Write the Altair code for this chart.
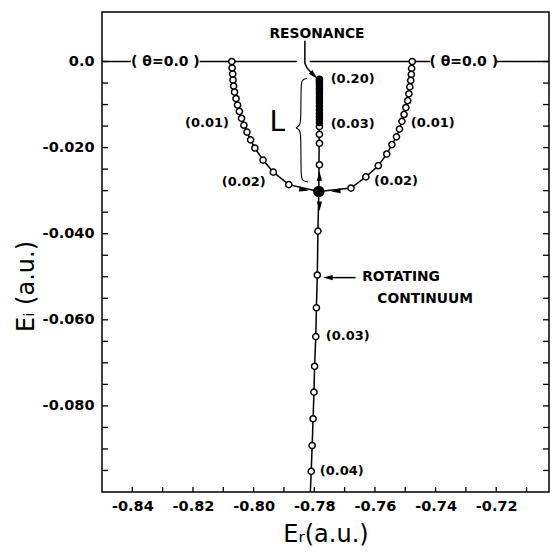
import altair as alt
import pandas as pd

# ---------------- data ----------------
X_DOMAIN = [-0.8500, -0.7026]
Y_DOMAIN = [-0.100, 0.0115]

x_tick_labels = [-0.84, -0.82, -0.80, -0.78, -0.76, -0.74, -0.72]
y_tick_labels = [0.0, -0.02, -0.04, -0.06, -0.08]
x_minor = [-0.84, -0.83, -0.82, -0.81, -0.80, -0.79, -0.78, -0.77, -0.76, -0.75, -0.74, -0.73, -0.72, -0.71]
y_minor = [0.0, -0.005, -0.010, -0.015, -0.020, -0.025, -0.030, -0.035, -0.040, -0.045,
           -0.050, -0.055, -0.060, -0.065, -0.070, -0.075, -0.080, -0.085, -0.090, -0.095]

# left trajectory (theta 0.0 -> 0.02)
left_x = [-0.8072, -0.8071, -0.8069, -0.8068, -0.8066, -0.8063, -0.8058, -0.8053, -0.8047,
          -0.8040, -0.8032, -0.8022, -0.8010, -0.7996, -0.7969, -0.7935, -0.7884]
left_y = [0.0, -0.0015, -0.0029, -0.0043, -0.0057, -0.0071, -0.0086, -0.0101, -0.0116,
          -0.0132, -0.0148, -0.0164, -0.0182, -0.0201, -0.0229, -0.0257, -0.0286]
# right trajectory
right_x = [-0.7477, -0.7479, -0.7480, -0.7482, -0.7485, -0.7488, -0.7492, -0.7498, -0.7504,
           -0.7511, -0.7519, -0.7529, -0.7544, -0.7561, -0.7589, -0.7630, -0.7679]
right_y = [0.0, -0.0016, -0.0030, -0.0044, -0.0059, -0.0075, -0.0091, -0.0107, -0.0123,
           -0.0139, -0.0157, -0.0175, -0.0193, -0.0215, -0.0242, -0.0268, -0.0294]
# bifurcation point
center_x = [-0.7785]
center_y = [-0.0302]
# resonance (theta 0.03 -> 0.20)
res_x = -0.7783
res_open_y = [-0.0151, -0.0169, -0.0190, -0.0240]
res_fill_y = [-0.0041, -0.0044, -0.0048, -0.0052, -0.0057, -0.0062, -0.0068, -0.0074, -0.0081,
              -0.0088, -0.0096, -0.0104, -0.0112, -0.0120, -0.0128, -0.0135, -0.0142]
# rotating continuum
cont_x = [-0.7788, -0.7790, -0.7793, -0.7795, -0.7799, -0.7801, -0.7804, -0.7807, -0.7810]
cont_y = [-0.0394, -0.0496, -0.0572, -0.0639, -0.0708, -0.0768, -0.0830, -0.0892, -0.0952]
cont_end = (-0.7813, -0.100)

# zero line pieces (interrupted by the labels and the arrow)
zero_from = [-0.8500, -0.8178, -0.7815, -0.7198]
zero_to = [-0.8405, -0.7857, -0.7418, -0.7026]

# arrowheads: x, y, direction (deg, clockwise from pointing right)
head_x = [-0.7834, -0.7729, -0.7783, -0.7783, -0.7801, -0.7755]
head_y = [-0.0298, -0.0301, -0.0266, -0.0336, -0.0032, -0.0502]
head_a = [11, 175, 270, 90, 45, 180]

# annotation arrows
res_arrow_x = [-0.7831, -0.7831, -0.7824, -0.7808]
res_arrow_y = [0.0048, -0.0004, -0.0015, -0.0028]
rot_arrow_x = [-0.7664, -0.7748]
rot_arrow_y = [-0.0502, -0.0502]

# brace
brace_x = [-0.7824, -0.7841, -0.7844, -0.7844, -0.7847, -0.7860, -0.7860, -0.7847, -0.7844,
           -0.7844, -0.7841, -0.7821]
brace_y = [-0.0039, -0.0042, -0.0055, -0.0134, -0.0148, -0.0154, -0.0154, -0.0159, -0.0173,
           -0.0264, -0.0277, -0.0280]

# labels
left_lab = ["(0.20)", "(0.03)", "(0.01)", "(0.02)", "(0.03)", "(0.04)"]
left_lab_x = [-0.7746, -0.7746, -0.7482, -0.7603, -0.7762, -0.7782]
left_lab_y = [-0.0041, -0.0146, -0.0143, -0.0277, -0.0638, -0.0952]
word_lab = ["ROTATING", "CONTINUUM"]
word_lab_x = [-0.7642, -0.7592]
word_lab_y = [-0.0501, -0.0551]
right_lab = ["(0.01)", "(0.02)"]
right_lab_x = [-0.8081, -0.7960]
right_lab_y = [-0.0143, -0.0280]
center_lab = ["RESONANCE"]
center_lab_x = [-0.7791]
center_lab_y = [0.0064]
theta_lab = ["( θ=0.0 )", "( θ=0.0 )"]
theta_lab_x = [-0.8291, -0.7307]
theta_lab_y = [0.0, 0.0]
big_lab = ["L"]
big_lab_x = [-0.7922]
big_lab_y = [-0.0143]

# ---------------- chart ----------------
FONT = "DejaVu Sans"
W, H = 447, 480
xs = alt.Scale(domain=X_DOMAIN, nice=False, zero=False)
ys = alt.Scale(domain=Y_DOMAIN, nice=False, zero=False)

x_axis = alt.Axis(
    values=x_tick_labels,
    labelExpr="'-' + format(abs(datum.value), '.2f')",
    ticks=False, domain=False, grid=False, labelPadding=7, labelFlush=False,
    labelOverlap=False, labelFont=FONT, labelFontSize=14.5, labelFontWeight="bold",
    labelColor="black",
    title="Eᵣ(a.u.)", titleFont=FONT, titleFontSize=24, titleFontWeight="normal",
    titleColor="black", titleY=42, titleBaseline="middle",
)
y_axis = alt.Axis(
    values=y_tick_labels,
    labelExpr="datum.value == 0 ? '0.0' : '-' + format(abs(datum.value), '.3f')",
    ticks=False, domain=False, grid=False, labelPadding=8, labelFlush=False,
    labelOverlap=False, labelFont=FONT, labelFontSize=14.5, labelFontWeight="bold",
    labelColor="black",
    title="Eᵢ (a.u.)", titleFont=FONT, titleFontSize=24, titleFontWeight="normal",
    titleColor="black", titleX=-76, titleY=274, titleBaseline="middle", titleAngle=270,
)


def X(f):
    return alt.X(f, type="quantitative", scale=xs, axis=x_axis)


def Y(f):
    return alt.Y(f, type="quantitative", scale=ys, axis=y_axis)


rows = []
def add_series(name, xs_, ys_):
    for i, (a, b) in enumerate(zip(xs_, ys_)):
        rows.append({"s": name, "o": i, "x": a, "y": b})

add_series("left", left_x + center_x, left_y + center_y)
add_series("right", right_x + center_x, right_y + center_y)
add_series("res", center_x + [res_x], center_y + [res_fill_y[0]])
add_series("cont", center_x + cont_x + [cont_end[0]], center_y + cont_y + [cont_end[1]])
add_series("resarrow", res_arrow_x, res_arrow_y)
add_series("rotarrow", rot_arrow_x, rot_arrow_y)
lines_df = pd.DataFrame(rows)

open_df = pd.DataFrame({
    "x": left_x + right_x + [res_x] * len(res_open_y) + cont_x,
    "y": left_y + right_y + res_open_y + cont_y,
})
fill_df = pd.DataFrame({"x": [res_x] * len(res_fill_y), "y": res_fill_y})
center_df = pd.DataFrame({"x": center_x, "y": center_y})
zero_df = pd.DataFrame({"x": zero_from, "x2": zero_to, "y": [0.0] * len(zero_from)})
head_df = pd.DataFrame({"x": head_x, "y": head_y, "a": head_a})
brace_df = pd.DataFrame({"x": brace_x, "y": brace_y, "o": list(range(len(brace_x)))})
ytick_df = pd.DataFrame({"y": y_minor})
xtick_df = pd.DataFrame({"x": x_minor})

zero_layer = alt.Chart(zero_df).mark_rule(color="black", strokeWidth=1.5).encode(
    x=X("x"), x2="x2", y=Y("y")
)

line_layer = alt.Chart(lines_df).mark_line(color="black", strokeWidth=1.5).encode(
    x=X("x"), y=Y("y"), detail="s:N", order="o:Q"
)

brace_layer = alt.Chart(brace_df).mark_line(color="black", strokeWidth=1.1, interpolate="basis").encode(
    x=X("x"), y=Y("y"), order="o:Q"
)

open_layer = alt.Chart(open_df).mark_point(
    shape="circle", filled=True, fill="white", stroke="black", strokeWidth=1.5, size=38, opacity=1
).encode(x=X("x"), y=Y("y"))

fill_layer = alt.Chart(fill_df).mark_point(
    shape="circle", filled=True, color="black", size=55, opacity=1
).encode(x=X("x"), y=Y("y"))

center_layer = alt.Chart(center_df).mark_point(
    shape="circle", filled=True, color="black", size=130, opacity=1
).encode(x=X("x"), y=Y("y"))

head_layer = alt.Chart(head_df).mark_point(
    shape="M1,0L-1,-0.55L-1,0.55Z", filled=True, color="black", size=90, opacity=1
).encode(x=X("x"), y=Y("y"), angle=alt.Angle("a:Q", scale=None))


def text_layer(texts, tx, ty, align, size=13, weight="bold"):
    df = pd.DataFrame({"t": texts, "x": tx, "y": ty})
    return alt.Chart(df).mark_text(
        align=align, baseline="middle", font=FONT, fontSize=size, fontWeight=weight, color="black"
    ).encode(x=X("x"), y=Y("y"), text="t:N")


t_left = text_layer(left_lab, left_lab_x, left_lab_y, "left")
t_words = text_layer(word_lab, word_lab_x, word_lab_y, "left", size=13.8)
t_right = text_layer(right_lab, right_lab_x, right_lab_y, "right")
t_center = text_layer(center_lab, center_lab_x, center_lab_y, "center", size=13.8)
t_theta = text_layer(theta_lab, theta_lab_x, theta_lab_y, "center", size=14)
t_big = text_layer(big_lab, big_lab_x, big_lab_y, "center", size=28, weight="normal")

ytick_l = alt.Chart(ytick_df).mark_rule(color="black", strokeWidth=1.3).encode(
    y=Y("y"), x=alt.value(0), x2=alt.value(6))
ytick_r = alt.Chart(ytick_df).mark_rule(color="black", strokeWidth=1.3).encode(
    y=Y("y"), x=alt.value(W - 6), x2=alt.value(W))
xtick_b = alt.Chart(xtick_df).mark_rule(color="black", strokeWidth=1.3).encode(
    x=X("x"), y=alt.value(H - 5), y2=alt.value(H))

chart = alt.layer(
    zero_layer, brace_layer, line_layer, open_layer, fill_layer, center_layer, head_layer,
    t_left, t_words, t_right, t_center, t_theta, t_big, ytick_l, ytick_r, xtick_b,
).properties(
    width=W, height=H,
    autosize=alt.AutoSizeParams(type="none"),
    padding={"left": 94, "top": 4, "right": 1, "bottom": 54},
    background="white",
).configure_view(stroke="black", strokeWidth=1.5)

chart.save("out.html", embed_options={"renderer": "svg", "actions": False})
